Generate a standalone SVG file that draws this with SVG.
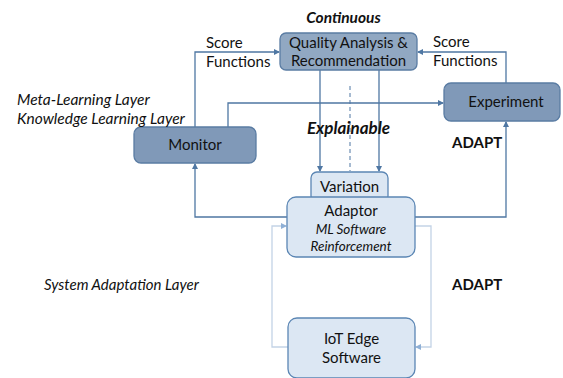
<svg xmlns="http://www.w3.org/2000/svg" width="563" height="378" viewBox="0 0 563 378">
<defs>
<marker id="ah" markerWidth="6" markerHeight="6" refX="5" refY="3" orient="auto" markerUnits="userSpaceOnUse"><path d="M0,0 L6,3 L0,6 z" fill="#4f77a3"/></marker>
<marker id="ahl" markerWidth="6" markerHeight="6" refX="5" refY="3" orient="auto" markerUnits="userSpaceOnUse"><path d="M0,0 L6,3 L0,6 z" fill="#8fb0d6"/></marker>
<style>
text{font-family:Lato,"Liberation Sans",Arial,sans-serif;font-size:15px;fill:#111}
.c{text-anchor:middle}
.i{font-style:italic}
.b{font-weight:bold}
.dark{fill:#8099b8;stroke:#5a7ca3;stroke-width:1.3}
.mid{fill:#91a8c2;stroke:#5a7ca3;stroke-width:1.3}
.light{fill:#dce7f3;stroke:#5b86b4;stroke-width:1.3}
.ln{fill:none;stroke:#4f77a3;stroke-width:1.3}
.lnl{fill:none;stroke:#c3d3e6;stroke-width:1.3}
</style>
</defs>
<g id="connectors">
<path class="ln" d="M195,127 V52 H279" marker-end="url(#ah)"/>
<path class="ln" d="M506,83 V52 H418" marker-end="url(#ah)"/>
<path class="ln" d="M228,127 V103 H443" marker-end="url(#ah)"/>
<path class="ln" d="M320,70 V171" marker-end="url(#ah)"/>
<path class="ln" d="M379,70 V171" marker-end="url(#ah)"/>
<path d="M350,86 V171" fill="none" stroke="#4f77a3" stroke-width="1" stroke-dasharray="4,3"/>
<path class="ln" d="M287,217 H195 V164" marker-end="url(#ah)"/>
<path class="ln" d="M415,217 H506 V122" marker-end="url(#ah)"/>
<path class="lnl" d="M288,347 H272 V226 H286" marker-end="url(#ahl)"/>
<path class="lnl" d="M415,226 H431 V347 H416" marker-end="url(#ahl)"/>
</g>
<g id="qa">
<rect class="mid" x="280" y="33" width="137" height="37" rx="6"/>
<text class="c" x="348.5" y="48">Quality Analysis &amp;</text>
<text class="c" x="348.5" y="66">Recommendation</text>
</g>
<g id="experiment">
<rect class="dark" x="444" y="83" width="116" height="38" rx="7"/>
<text class="c" x="506" y="107">Experiment</text>
</g>
<g id="monitor">
<rect class="dark" x="134" y="127" width="122" height="36" rx="7"/>
<text class="c" x="195" y="150">Monitor</text>
</g>
<g id="variation">
<rect class="light" x="311" y="172" width="77" height="30" rx="6"/>
<text class="c" x="349.5" y="192">Variation</text>
</g>
<g id="adaptor">
<rect class="light" x="287" y="197" width="128" height="60" rx="9"/>
<text class="c" x="351" y="216">Adaptor</text>
<text class="c i" x="351" y="234" style="font-size:13.5px">ML Software</text>
<text class="c i" x="351" y="251" style="font-size:13.5px">Reinforcement</text>
</g>
<g id="iot">
<rect class="light" x="288" y="318" width="127" height="60" rx="9"/>
<text class="c" x="351.5" y="344">IoT Edge</text>
<text class="c" x="351.5" y="363">Software</text>
</g>
<g id="labels">
<text class="c i b" x="343.5" y="23" style="font-size:15.5px">Continuous</text>
<text x="206" y="48">Score</text>
<text x="206" y="67">Functions</text>
<text x="433" y="47">Score</text>
<text x="433" y="66">Functions</text>
<text class="i" x="17" y="105" style="font-size:15.5px">Meta-Learning Layer</text>
<text class="i" x="17" y="124" style="font-size:15.5px">Knowledge Learning Layer</text>
<text class="c i b" x="348.5" y="134" style="font-size:17px">Explainable</text>
<text class="b" x="452" y="148">ADAPT</text>
<text class="i" x="44" y="290">System Adaptation Layer</text>
<text class="b" x="452" y="290">ADAPT</text>
</g>
</svg>
